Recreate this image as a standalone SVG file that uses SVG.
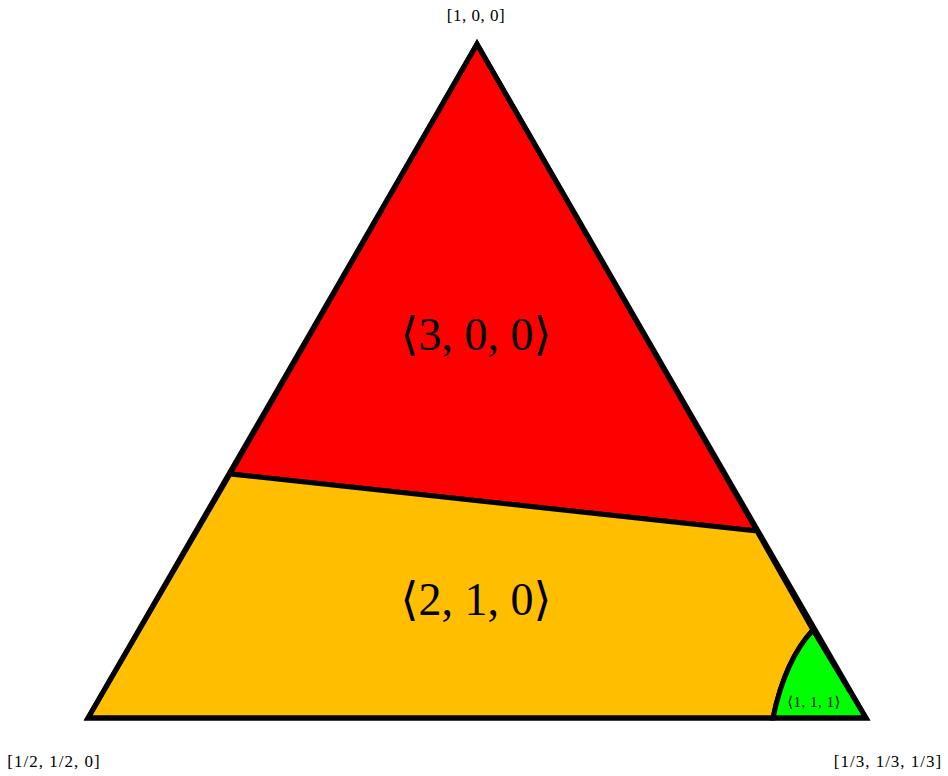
<svg xmlns="http://www.w3.org/2000/svg" width="948" height="776" viewBox="0 0 948 776">
<style>
.reg{stroke:#000;stroke-width:5;stroke-linejoin:miter}
.big{font-family:"Liberation Serif","DejaVu Serif",serif;font-size:46px;text-anchor:middle;fill:#000}
.sm{font-family:"Liberation Serif","DejaVu Serif",serif;font-size:17px;text-anchor:middle;fill:#000}
</style>
<rect width="948" height="776" fill="#fff"/>
<g id="region-300">
<path class="reg" d="M477,44 L230,474 L757,531 Z" fill="#ff0000"/>
</g>
<g id="region-210">
<path class="reg" d="M230,474 L88,718 L773,718 Q785,660 813,630 L757,531 Z" fill="#ffbf00"/>
</g>
<g id="region-111">
<path class="reg" d="M813,630 L866,718 L773,718 Q785,660 813,630 Z" fill="#00ff00"/>
</g>
<g id="outline">
<path d="M477,44 L88,718 L866,718 Z" fill="none" stroke="#000" stroke-width="5" stroke-linejoin="miter"/>
</g>
<g id="labels">
<text class="big" x="476" y="350">⟨3, 0, 0⟩</text>
<text class="big" x="476" y="615">⟨2, 1, 0⟩</text>
<text class="sm" x="814" y="707" style="font-size:15px;letter-spacing:0.5px">⟨1, 1, 1⟩</text>
<text class="sm" x="476" y="21" style="letter-spacing:0.5px">[1, 0, 0]</text>
<text class="sm" x="54" y="767" style="letter-spacing:1px">[1/2, 1/2, 0]</text>
<text class="sm" x="888" y="767" style="letter-spacing:1px">[1/3, 1/3, 1/3]</text>
</g>
</svg>
